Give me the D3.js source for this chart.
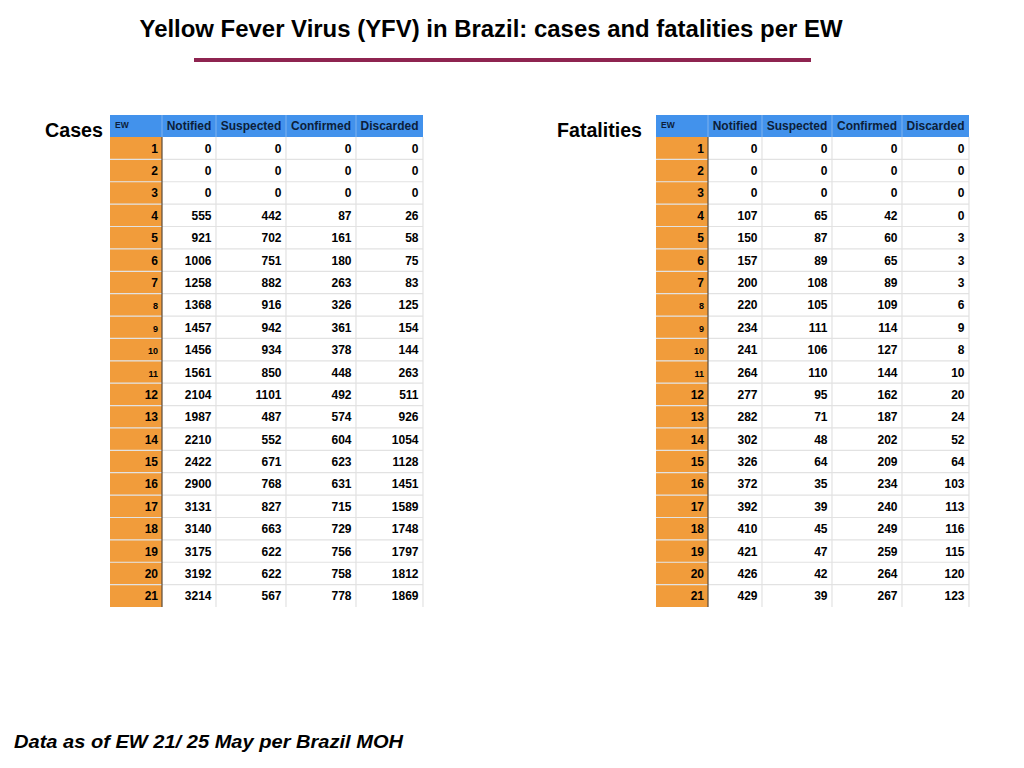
<!DOCTYPE html>
<html>
<head>
<meta charset="utf-8">
<script src="https://cdn.jsdelivr.net/npm/d3@7"></script>
<style>
  html, body { margin: 0; padding: 0; background: #fff; }
  svg { display: block; font-family: "Liberation Sans", Arial, Helvetica, sans-serif; }
</style>
</head>
<body>
<svg id="chart" width="1024" height="768"></svg>
<script>
// Semanas epidemiológicas e colunas
const weeks = d3.range(1, 22);
const columns = ['Notified', 'Suspected', 'Confirmed', 'Discarded'];

// Casos por EW
const casesNotified  = [0, 0, 0, 555, 921, 1006, 1258, 1368, 1457, 1456, 1561, 2104, 1987, 2210, 2422, 2900, 3131, 3140, 3175, 3192, 3214];
const casesSuspected = [0, 0, 0, 442, 702, 751, 882, 916, 942, 934, 850, 1101, 487, 552, 671, 768, 827, 663, 622, 622, 567];
const casesConfirmed = [0, 0, 0, 87, 161, 180, 263, 326, 361, 378, 448, 492, 574, 604, 623, 631, 715, 729, 756, 758, 778];
const casesDiscarded = [0, 0, 0, 26, 58, 75, 83, 125, 154, 144, 263, 511, 926, 1054, 1128, 1451, 1589, 1748, 1797, 1812, 1869];

// Óbitos por EW
const deathsNotified  = [0, 0, 0, 107, 150, 157, 200, 220, 234, 241, 264, 277, 282, 302, 326, 372, 392, 410, 421, 426, 429];
const deathsSuspected = [0, 0, 0, 65, 87, 89, 108, 105, 111, 106, 110, 95, 71, 48, 64, 35, 39, 45, 47, 42, 39];
const deathsConfirmed = [0, 0, 0, 42, 60, 65, 89, 109, 114, 127, 144, 162, 187, 202, 209, 234, 240, 249, 259, 264, 267];
const deathsDiscarded = [0, 0, 0, 0, 3, 3, 3, 6, 9, 8, 10, 20, 24, 52, 64, 103, 113, 116, 115, 120, 123];

const svg = d3.select('#chart');

// Título
svg.append('text')
    .attr('x', 491).attr('y', 37)
    .attr('text-anchor', 'middle')
    .attr('font-size', 23).attr('font-weight', 'bold')
    .attr('textLength', 703).attr('lengthAdjust', 'spacingAndGlyphs')
    .text('Yellow Fever Virus (YFV) in Brazil: cases and fatalities per EW');

svg.append('rect')
    .attr('x', 194).attr('y', 58).attr('width', 617).attr('height', 4)
    .attr('fill', '#8e2450');

// Rodapé
svg.append('text')
    .attr('x', 14).attr('y', 748)
    .attr('font-size', 19).attr('font-weight', 'bold').attr('font-style', 'italic')
    .attr('textLength', 389).attr('lengthAdjust', 'spacingAndGlyphs')
    .text('Data as of EW 21/ 25 May per Brazil MOH');

const colWidths = [52, 54, 70, 70, 67];
const headerH = 22;
const rowY = d3.scaleBand().domain(weeks).range([137, 607]).paddingInner(0);

function drawTable(x0, label, labelX, labelW, series) {
    const g = svg.append('g').attr('transform', `translate(${x0},0)`);
    const keys = ['EW'].concat(columns);
    const edges = [0];
    colWidths.forEach(w => edges.push(edges[edges.length - 1] + w));
    const colX = d3.scaleOrdinal().domain(keys).range(edges.slice(0, -1));
    const colW = d3.scaleOrdinal().domain(keys).range(colWidths);
    const totalW = edges[edges.length - 1];

    svg.append('text')
        .attr('x', labelX).attr('y', 137)
        .attr('font-size', 19.5).attr('font-weight', 'bold')
        .attr('textLength', labelW).attr('lengthAdjust', 'spacingAndGlyphs')
        .text(label);

    // cabeçalho
    g.append('rect')
        .attr('x', 0).attr('y', 115).attr('width', totalW).attr('height', headerH)
        .attr('fill', '#4292ec');
    g.selectAll('.hdr-sep').data(edges.slice(1, -1)).enter().append('line')
        .attr('x1', d => d).attr('x2', d => d)
        .attr('y1', 115).attr('y2', 137)
        .attr('stroke', '#7fb2ee').attr('stroke-width', 1);
    g.append('text')
        .attr('x', 5).attr('y', 128)
        .attr('font-size', 8.5).attr('font-weight', 'bold').attr('fill', '#0c1e3a')
        .text('EW');
    g.selectAll('.hdr').data(columns).enter().append('text')
        .attr('x', d => colX(d) + colW(d) / 2).attr('y', 130)
        .attr('text-anchor', 'middle')
        .attr('font-size', 12).attr('font-weight', 'bold').attr('fill', '#0c1e3a')
        .text(d => d);

    // coluna EW laranja
    g.selectAll('.ew-bg').data(weeks).enter().append('rect')
        .attr('x', 0).attr('y', d => rowY(d))
        .attr('width', colWidths[0]).attr('height', rowY.bandwidth())
        .attr('fill', '#f19c3b');

    // linhas da grade
    g.selectAll('.hline').data(weeks.slice(1)).enter().append('line')
        .attr('x1', 0).attr('x2', totalW)
        .attr('y1', d => rowY(d)).attr('y2', d => rowY(d))
        .attr('stroke', '#e2e2e2').attr('stroke-width', 1.2);
    g.selectAll('.vline').data(edges.slice(2)).enter().append('line')
        .attr('x1', d => d).attr('x2', d => d)
        .attr('y1', 137).attr('y2', 607)
        .attr('stroke', '#e2e2e2').attr('stroke-width', 1.2);
    g.append('line')
        .attr('x1', colWidths[0]).attr('x2', colWidths[0])
        .attr('y1', 137).attr('y2', 607)
        .attr('stroke', '#5a4a3a').attr('stroke-width', 1.2);

    // rótulos EW (semanas 8–11 em fonte menor, como no original)
    g.selectAll('.ew').data(weeks).enter().append('text')
        .attr('x', colWidths[0] - 4)
        .attr('y', d => rowY(d) + rowY.bandwidth() / 2 + 4.5)
        .attr('text-anchor', 'end')
        .attr('font-size', d => (d >= 8 && d <= 11) ? 9 : 12)
        .attr('font-weight', 'bold')
        .text(d => d);

    // valores
    columns.forEach((c, ci) => {
        g.selectAll('.v' + ci).data(series[ci]).enter().append('text')
            .attr('x', colX(c) + colW(c) - 4.5)
            .attr('y', (d, i) => rowY(weeks[i]) + rowY.bandwidth() / 2 + 4.5)
            .attr('text-anchor', 'end')
            .attr('font-size', 12).attr('font-weight', 'bold')
            .text(d => d);
    });
}

drawTable(110, 'Cases', 45, 58, [casesNotified, casesSuspected, casesConfirmed, casesDiscarded]);
drawTable(656, 'Fatalities', 557, 85, [deathsNotified, deathsSuspected, deathsConfirmed, deathsDiscarded]);
</script>
</body>
</html>
